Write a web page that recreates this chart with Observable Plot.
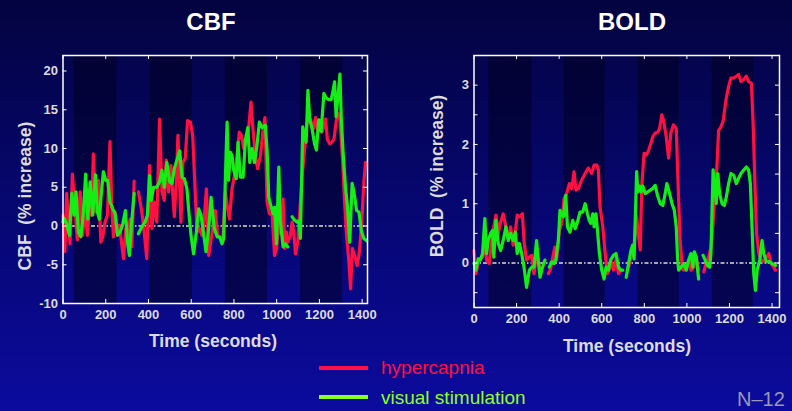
<!DOCTYPE html>
<html>
<head>
<meta charset="utf-8">
<script src="https://cdn.jsdelivr.net/npm/d3@7"></script>
<script src="https://cdn.jsdelivr.net/npm/@observablehq/plot@0.6"></script>
<style>
  html, body { margin: 0; padding: 0; }
  body {
    width: 792px; height: 411px; overflow: hidden;
    background: linear-gradient(to bottom, #030340 0%, #06066c 45%, #0b0b9e 100%);
    font-family: "Liberation Sans", Arial, Helvetica, sans-serif;
  }
  #root { position: relative; width: 792px; height: 411px; }
  .abs { position: absolute; white-space: nowrap; }
  .title { color: #ffffff; font-weight: bold; font-size: 24px; transform: translate(-50%, -50%); }
  .axlab { color: #dcdcdc; font-weight: bold; font-size: 17.5px; transform: translate(-50%, -50%); }
  .ylab { transform: translate(-50%, -50%) rotate(-90deg); }
  .leg { font-size: 19px; transform: translateY(-50%); }
  .swatch { position: absolute; height: 4px; width: 49px; }
  svg { position: absolute; top: 0; }
</style>
</head>
<body>
<div id="root"></div>
<script>
// ---------- data ----------
const cbfXTicks = [0, 200, 400, 600, 800, 1000, 1200, 1400];
const cbfYTicks = [-10, -5, 0, 5, 10, 15, 20];
const boldXTicks = [0, 200, 400, 600, 800, 1000, 1200, 1400];
const boldYTicks = [-0.5, 0, 0.5, 1, 1.5, 2, 2.5, 3];
const boldYLabels = [0, 1, 2, 3];

// stimulation blocks (darker bands), seconds
const cbfBandStart = [52, 408, 760, 1112];
const cbfBandEnd = [253, 605, 957, 1309];
const boldBandStart = [70, 423, 771, 1119];
const boldBandEnd = [272, 616, 964, 1312];

// CBF, hypercapnia (% increase)
const cbfHyperT = [0,9,17,33,44,56,67,80,92,103,
  114,127,134,142,153,166,177,186,197,208,
  220,228,236,244,255,264,283,294,303,314,
  322,333,343,353,369,380,392,405,416,427,
  439,452,463,474,483,494,505,521,530,538,
  552,561,572,583,596,607,616,627,638,650,
  660,671,682,689,700,713,724,735,747,760,
  768,779,791,802,815,825,835,846,858,869,
  880,889,900,911,924,936,945,955,966,979,
  990,999,1010,1020,1030,1038,1046,1052,1065,1072,
  1080,1088,1099,1108,1119,1130,1143,1158,1171,1182,
  1193,1201,1212,1229,1237,1248,1258,1268,1279,1287,
  1296,1307,1318,1327,1338,1346,1354,1365,1377,1387,
  1398,1408,1416];
const cbfHyperV = [1.4,-3.3,4.2,-2.3,6.7,2.4,-1.8,4.4,-1.2,2.7,
  -1.2,3.5,1.4,9.3,1.8,5.9,-2.1,-1.4,0.5,1.4,
  10.9,2.7,-1.4,1.8,-1.2,0.1,-4.2,-0.3,-1.2,0.9,
  -2.7,5.8,NaN,4.4,1.8,-0.8,-4.2,7.8,-0.3,3.1,
  0.5,13.8,4.5,3.3,8.5,4.4,7.8,1.2,5.7,11.7,
  0.5,8.2,8.7,13.6,13.4,11.7,6.1,-0.8,-0.3,-1.2,
  0.5,4.8,-3.8,-2.5,-0.5,2.0,-1.4,-1.4,-2.1,4.4,
  2.7,0.9,4.8,6.5,9.1,12.1,11.7,10.0,10.8,12.7,
  16.0,12.5,9.1,7.4,9.1,12.3,14.0,3.1,1.6,1.4,
  -3.8,-3.0,0.5,-1.0,3.5,-2.9,-0.8,-2.1,-1.2,0.5,
  -0.8,-3.6,-2.0,1.8,6.3,9.8,13.4,13.8,12.5,14.0,
  12.1,13.6,12.1,13.8,11.2,10.6,10.8,11.2,13.6,14.5,
  13.8,9.1,3.1,-1.2,-4.6,-8.1,-2.9,-3.8,-5.1,-3.4,
  0.5,5.7,8.2];

// CBF, visual stimulation (% increase)
const cbfVisualT = [0,5,17,30,41,52,61,72,83,95,
  106,116,127,139,152,161,170,180,189,200,
  209,220,233,244,255,267,280,292,303,311,
  320,333,343,353,369,384,395,405,413,424,
  439,452,463,474,486,499,510,521,533,546,
  557,568,580,589,599,611,624,635,646,658,
  669,682,693,708,721,733,744,752,763,768,
  775,783,791,799,811,819,830,843,854,865,
  874,885,896,908,919,932,947,955,963,974,
  983,990,999,1010,1017,1030,1041,1052,1062,1072,
  1082,1096,1104,1111,1122,1130,1138,1146,1155,1166,
  1177,1186,1197,1208,1221,1232,1244,1255,1264,1271,
  1278,1287,1296,1302,1311,1322,1330,1342,1353,1362,
  1374,1385,1396,1408,1421];
const cbfVisualV = [0.5,1.0,0.3,-1.2,4.2,1.4,4.4,-0.8,-1.4,1.6,
  6.7,0.9,5.7,1.4,6.6,1.8,0.9,4.4,7.0,5.9,
  5.9,3.1,2.2,1.6,-1.2,-0.8,0.3,2.0,-2.3,-3.8,
  0.1,4.2,NaN,-1.0,-0.1,0.5,1.4,6.5,3.3,5.0,
  5.0,5.7,7.2,5.0,8.2,5.7,5.5,7.4,8.5,9.7,
  6.3,6.1,4.8,1.8,-1.2,-3.6,-0.8,2.2,1.4,-1.0,
  -3.3,-0.3,3.7,-0.3,-1.4,-1.4,-2.3,-1.6,9.1,13.4,
  5.9,9.5,9.1,7.2,6.1,10.8,6.3,6.3,11.2,12.7,
  8.2,10.0,8.2,10.4,13.4,12.7,13.0,9.8,3.7,2.5,
  1.6,2.4,-2.3,7.6,0.7,-2.7,-2.3,-2.7,NaN,1.2,
  0.8,0.5,0.7,-1.6,12.8,11.9,10.8,17.5,13.7,12.5,
  10.6,9.8,13.7,12.2,17.1,16.5,16.3,16.3,17.5,18.6,
  14.1,16.8,19.6,14.1,9.4,5.0,2.9,-2.1,5.5,4.3,
  2.0,1.8,-0.6,-1.6,-1.9];

// BOLD, hypercapnia (% increase)
const boldHyperT = [0,9,24,40,51,59,71,82,93,103,
  114,125,137,150,161,172,184,195,203,216,
  227,236,247,260,271,282,294,303,313,330,
  349,360,370,380,388,401,412,423,435,448,
  459,470,479,490,506,522,537,553,564,577,
  584,592,605,616,627,636,642,655,667,679,
  690,707,726,737,749,757,764,773,781,788,
  799,809,820,831,840,851,862,872,882,890,
  903,914,925,937,950,958,968,979,985,997,
  1008,1019,1030,1044,1055,1065,1079,1091,1102,1113,
  1123,1134,1141,1149,1157,1170,1176,1185,1196,1207,
  1220,1232,1243,1254,1266,1279,1290,1303,1311,1319,
  1327,1338,1349,1361,1374,1385,1396,1408,1416];
const boldHyperV = [0.21,-0.18,0.07,0.1,0.38,0.05,-0.01,0.33,0.61,0.81,
  0.5,0.69,0.83,0.61,0.38,0.61,0.3,0.55,0.81,0.78,
  0.83,0.33,0.05,0.1,0.13,-0.18,0.16,0.0,-0.12,NaN,
  -0.18,-0.1,0.1,0.27,0.05,0.55,0.67,1.09,1.17,1.34,
  1.25,1.54,1.23,1.25,1.4,1.51,1.6,1.51,1.65,1.65,
  1.57,0.95,0.61,0.16,-0.18,-0.1,0.05,-0.12,0.05,-0.18,
  -0.12,NaN,-0.07,0.1,0.16,0.55,0.78,0.45,0.22,1.3,
  1.85,1.82,1.9,2.02,2.13,2.19,2.2,2.27,2.5,2.41,
  2.13,1.77,2.2,2.33,2.27,1.4,0.38,-0.1,-0.12,-0.1,
  0.05,-0.12,-0.08,0.1,-0.12,NaN,-0.15,0.0,0.1,0.27,
  0.67,1.34,1.62,2.24,2.27,2.39,2.55,2.78,2.98,3.12,
  3.12,3.15,3.18,3.06,3.09,3.15,3.06,3.03,2.36,1.4,
  0.5,0.16,0.05,0.03,0.1,0.16,-0.01,-0.07,-0.12];

// BOLD, visual stimulation (% increase)
const boldVisualT = [0,9,20,30,40,51,59,67,78,87,
  93,103,114,125,137,150,161,172,184,194,
  203,213,224,235,247,260,271,282,294,302,
  310,322,333,344,354,365,376,385,396,404,
  412,420,431,439,451,464,475,486,498,511,
  522,533,541,548,558,564,573,580,589,600,
  611,620,631,642,655,667,679,690,699,707,
  715,726,737,745,752,764,770,777,785,793,
  804,816,828,840,851,862,875,887,898,906,
  919,930,941,950,956,961,972,985,997,1008,
  1019,1028,1035,1044,1055,1065,1076,1086,1097,1107,
  1113,1123,1129,1138,1145,1154,1165,1176,1185,1196,
  1207,1220,1232,1243,1254,1267,1279,1290,1298,1306,
  1314,1322,1330,1342,1353,1361,1374,1385,1400,1416];
const boldVisualV = [0.0,-0.12,0.07,0.05,0.16,0.75,0.16,0.38,0.5,0.55,
  0.1,0.72,0.33,0.21,0.38,0.61,0.38,0.5,0.38,0.52,
  0.16,0.33,0.16,-0.07,-0.41,-0.12,-0.07,-0.07,0.38,0.05,
  -0.24,-0.07,0.05,NaN,-0.07,0.02,-0.01,0.07,0.38,0.89,
  0.83,0.78,1.14,0.61,0.52,0.72,0.58,0.69,0.86,0.86,
  1.0,0.83,0.72,0.67,0.83,0.61,0.83,0.55,0.16,-0.12,
  -0.27,-0.07,-0.12,0.05,0.13,0.16,-0.07,-0.12,-0.12,NaN,
  -0.24,-0.01,0.21,0.3,0.07,1.54,1.2,1.3,1.2,1.3,
  1.17,1.2,1.23,1.26,1.31,1.14,1.0,0.97,1.17,1.34,
  1.17,1.0,0.89,0.61,0.1,-0.12,-0.07,-0.01,-0.12,0.05,
  0.16,-0.07,0.19,0.1,-0.27,NaN,0.13,0.05,-0.04,-0.07,
  0.16,1.57,1.4,1.0,1.51,1.17,1.0,0.97,1.11,1.34,
  1.51,1.48,1.34,1.43,1.51,1.57,1.62,1.57,1.34,0.61,
  -0.18,-0.46,-0.12,0.05,0.38,0.16,0.02,0.03,-0.01,-0.04];

// ---------- styling ----------
const RED = "#ff1040";
const GREEN = "#14ee14";
const BAND = "rgba(0,0,28,0.5)";
const FONT = "'Liberation Sans', Arial, Helvetica, sans-serif";

function panel(cfg) {
  const innerW = cfg.width - cfg.ml - cfg.mr;
  const innerH = cfg.height - cfg.mt - cfg.mb;
  const fmt = d => String(d);
  return Plot.plot({
    width: cfg.width, height: cfg.height,
    marginLeft: cfg.ml, marginRight: cfg.mr, marginTop: cfg.mt, marginBottom: cfg.mb,
    x: {domain: cfg.xDomain},
    y: {domain: cfg.yDomain},
    style: {background: "transparent", color: "#dcdcdc", fontFamily: FONT, overflow: "visible"},
    marks: [
      Plot.rect(cfg.bandStart, {x1: cfg.bandStart, x2: cfg.bandEnd, fill: BAND}),
      Plot.ruleY([0], {stroke: "#a8a8a8", strokeWidth: 2, strokeDasharray: "4,2,1.5,2"}),
      Plot.line(cfg.hyperV, {x: cfg.hyperT, y: cfg.hyperV, stroke: RED, strokeWidth: 3.2, strokeLinejoin: "round"}),
      Plot.line(cfg.visualV, {x: cfg.visualT, y: cfg.visualV, stroke: GREEN, strokeWidth: 3.2, strokeLinejoin: "round"}),
      Plot.frame({stroke: "white", strokeWidth: 1.5}),
      // inward tick marks on all four sides
      Plot.ruleX(cfg.xTicks, {x: d => d, stroke: "white", strokeWidth: 1, insetTop: innerH - 4}),
      Plot.ruleX(cfg.xTicks, {x: d => d, stroke: "white", strokeWidth: 1, insetBottom: innerH - 4}),
      Plot.ruleY(cfg.yTicks, {y: d => d, stroke: "white", strokeWidth: 1, insetRight: innerW - 4}),
      Plot.ruleY(cfg.yTicks, {y: d => d, stroke: "white", strokeWidth: 1, insetLeft: innerW - 4}),
      Plot.axisX({ticks: cfg.xTicks, tickSize: 0, tickPadding: 6, tickFormat: fmt,
        fontSize: 13, fontWeight: "bold", label: null}),
      Plot.axisY({ticks: cfg.yLabels, tickSize: 0, tickPadding: 5, tickFormat: fmt,
        fontSize: 13, fontWeight: "bold", label: null})
    ]
  });
}

const root = document.getElementById("root");

const cbf = panel({
  width: 390, height: 340, ml: 62.5, mr: 23, mt: 55, mb: 37,
  xDomain: [0, 1425], yDomain: [-10, 22],
  bandStart: cbfBandStart, bandEnd: cbfBandEnd,
  hyperT: cbfHyperT, hyperV: cbfHyperV, visualT: cbfVisualT, visualV: cbfVisualV,
  xTicks: cbfXTicks, yTicks: cbfYTicks, yLabels: cbfYTicks
});
cbf.style.left = "0px";
root.appendChild(cbf);

const bold = panel({
  width: 392, height: 345, ml: 73.5, mr: 13, mt: 55, mb: 38,
  xDomain: [0, 1435], yDomain: [-0.75, 3.5],
  bandStart: boldBandStart, bandEnd: boldBandEnd,
  hyperT: boldHyperT, hyperV: boldHyperV, visualT: boldVisualT, visualV: boldVisualV,
  xTicks: boldXTicks, yTicks: boldYTicks, yLabels: boldYLabels
});
bold.style.left = "400px";
root.appendChild(bold);

// ---------- texts ----------
function addText(txt, cls, left, top, color) {
  const d = document.createElement("div");
  d.className = "abs " + cls;
  d.textContent = txt;
  d.style.left = left + "px";
  d.style.top = top + "px";
  if (color) d.style.color = color;
  root.appendChild(d);
  return d;
}
addText("CBF", "title", 211, 22);
addText("BOLD", "title", 632, 22);
addText("CBF  (% increase)", "axlab ylab", 24.5, 196).style.whiteSpace = "pre";
addText("BOLD  (% increase)", "axlab ylab", 437, 176).style.whiteSpace = "pre";
addText("Time (seconds)", "axlab", 213, 341);
addText("Time (seconds)", "axlab", 627, 346);

// legend
const sw1 = document.createElement("div");
sw1.className = "swatch"; sw1.style.left = "319px"; sw1.style.top = "366px"; sw1.style.background = RED;
root.appendChild(sw1);
const sw2 = document.createElement("div");
sw2.className = "swatch"; sw2.style.left = "319px"; sw2.style.top = "395px"; sw2.style.background = "#8cff2a";
root.appendChild(sw2);
addText("hypercapnia", "leg", 381, 368, RED);
addText("visual stimulation", "leg", 381, 398, "#8cff2a");
const n = addText("N\u201312", "leg", 737, 399, "#9898b8");
n.style.fontSize = "20px";
</script>
</body>
</html>
